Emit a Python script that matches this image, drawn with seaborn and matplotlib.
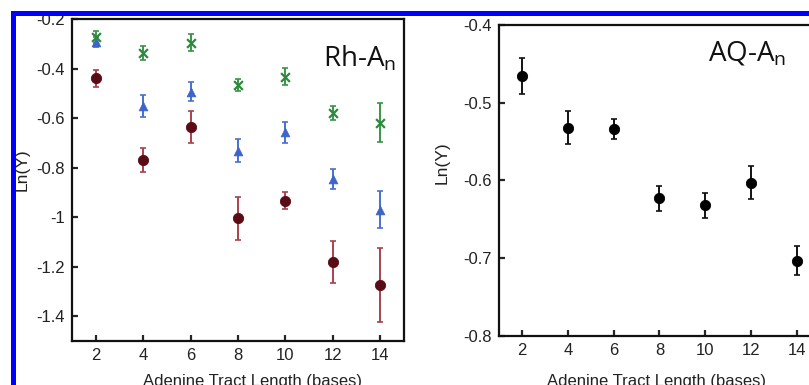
import numpy as np
import pandas as pd
import matplotlib
matplotlib.use('Agg')
import matplotlib.pyplot as plt
from matplotlib.patches import Rectangle
import seaborn as sns

lengths = [2, 4, 6, 8, 10, 12, 14]

# Rh-An panel, three series
rh_green = [-0.271, -0.336, -0.295, -0.466, -0.433, -0.580, -0.618]
rh_green_err = [0.024, 0.029, 0.034, 0.023, 0.034, 0.027, 0.079]
rh_blue = [-0.291, -0.551, -0.493, -0.731, -0.657, -0.846, -0.970]
rh_blue_err = [0.020, 0.044, 0.040, 0.045, 0.042, 0.040, 0.074]
rh_red = [-0.439, -0.769, -0.637, -1.004, -0.933, -1.182, -1.273]
rh_red_err = [0.035, 0.049, 0.064, 0.087, 0.035, 0.085, 0.150]

# AQ-An panel
aq = [-0.466, -0.532, -0.534, -0.623, -0.632, -0.603, -0.703]
aq_err = [0.023, 0.021, 0.0125, 0.016, 0.016, 0.021, 0.019]

sns.set_style('ticks')
plt.rcParams['font.family'] = ['Liberation Sans', 'DejaVu Sans']
plt.rcParams['axes.linewidth'] = 1.6

fig = plt.figure(figsize=(8.09, 3.85), dpi=100)
ax1 = fig.add_axes([0.0890, 0.1143, 0.4104, 0.8363])
ax2 = fig.add_axes([0.6168, 0.1273, 0.3968, 0.8078])

df = pd.DataFrame({
    'len': lengths * 3,
    'val': rh_red + rh_blue + rh_green,
    'err': rh_red_err + rh_blue_err + rh_green_err,
    'series': ['red'] * 7 + ['blue'] * 7 + ['green'] * 7,
})
mk_col = {'red': '#5a0c16', 'blue': '#3d64c8', 'green': '#2c8a3e'}
bar_col = {'red': '#a8424c', 'blue': '#4a6fd0', 'green': '#3a9448'}

for name, g in df.groupby('series'):
    ax1.errorbar(g['len'], g['val'], yerr=g['err'], fmt='none',
                 ecolor=bar_col[name], elinewidth=1.4, capsize=2, capthick=1.2, zorder=2)

sns.scatterplot(data=df[df.series == 'red'], x='len', y='val', ax=ax1, marker='o',
                color=mk_col['red'], s=55, edgecolor=mk_col['red'], zorder=3, legend=False)
sns.scatterplot(data=df[df.series == 'blue'], x='len', y='val', ax=ax1, marker='^',
                color=mk_col['blue'], s=40, edgecolor=mk_col['blue'], zorder=3, legend=False)
sns.scatterplot(data=df[df.series == 'green'], x='len', y='val', ax=ax1, marker='x',
                color=mk_col['green'], s=40, linewidth=1.6, zorder=3, legend=False)

ax2.errorbar(lengths, aq, yerr=aq_err, fmt='none', ecolor='#111111',
             elinewidth=1.4, capsize=2, capthick=1.2, zorder=2)
sns.scatterplot(x=lengths, y=aq, ax=ax2, color='#000000', s=55, edgecolor='#000000', zorder=3)

ax1.set_xlim(1, 15)
ax1.set_ylim(-1.5, -0.2)
ax1.set_yticks([-1.4, -1.2, -1, -0.8, -0.6, -0.4, -0.2])
ax1.set_yticklabels(['-1.4', '-1.2', '-1', '-0.8', '-0.6', '-0.4', '-0.2'])
ax2.set_xlim(1, 15)
ax2.set_ylim(-0.8, -0.4)
ax2.set_yticks([-0.8, -0.7, -0.6, -0.5, -0.4])
ax2.set_yticklabels(['-0.8', '-0.7', '-0.6', '-0.5', '-0.4'])

for ax in (ax1, ax2):
    ax.set_xticks(lengths)
    ax.tick_params(direction='in', length=4, width=1.6, labelsize=12,
                   labelcolor='#222222', pad=5)
    for s in ax.spines.values():
        s.set_visible(True)
        s.set_color('#111111')
    ax.set_xlabel('Adenine Tract Length (bases)', fontsize=12, color='#222222')
    ax.set_ylabel('Ln(Y)', fontsize=12.5, color='#222222')

ax1.xaxis.set_label_coords(0.545, -0.102)
ax2.xaxis.set_label_coords(0.49, -0.122)
ax1.yaxis.set_label_coords(-0.127, 0.531)
ax2.yaxis.set_label_coords(-0.154, 0.556)

ax1.text(0.755, 0.854, r'Rh-A$_\mathregular{n}$', transform=ax1.transAxes,
         fontsize=20, family='Open Sans', color='#111111', va='baseline')
ax2.text(0.651, 0.884, r'AQ-A$_\mathregular{n}$', transform=ax2.transAxes,
         fontsize=20, family='Open Sans', color='#111111', va='baseline')

# blue frame around the figure, cut at the right and bottom
fig.add_artist(Rectangle((12.5 / 809, -0.5), 2, 0.5 + 1 - 12.5 / 385,
                         transform=fig.transFigure, fill=False,
                         edgecolor='#0000ff', linewidth=3.6, zorder=10, clip_on=False))

fig.savefig('out.png', dpi=100)
